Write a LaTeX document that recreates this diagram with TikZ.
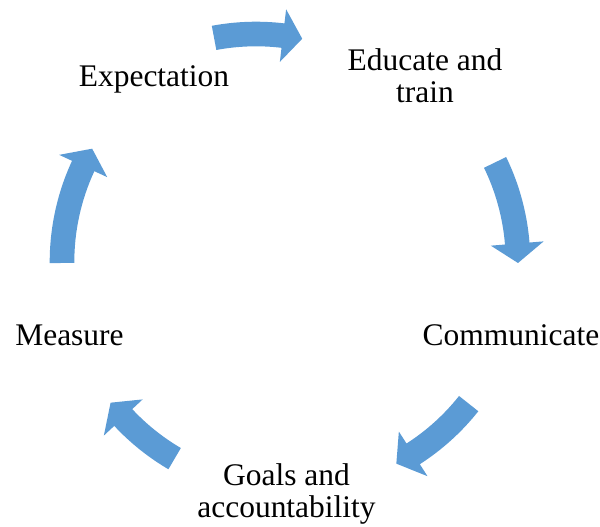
\documentclass[tikz,border=0pt]{standalone}
\usepackage{fontspec}
\setmainfont{Liberation Serif}
\usetikzlibrary{calc}
\definecolor{arrowblue}{HTML}{5B9BD5}
\tikzset{
  arrowfill/.style={fill=arrowblue},
  label/.style={inner sep=0pt, outer sep=0pt, align=center, anchor=base,
    font=\fontsize{23.6}{24}\selectfont}
}
% #1,#2 centre; #3 tail angle; #4 tip angle (image angles, clockwise)
\newcommand\cycarrow[4]{%
  \begin{scope}[shift={(#1,#2)}]
    \pgfmathsetmacro\hb{#4-4.9}
    \fill[arrowfill] (#3:240.3) arc[start angle=#3, end angle=\hb, radius=240.3]
      -- (\hb:254.5) -- (#4:228) -- (\hb:201.5) -- (\hb:215.7)
      arc[start angle=\hb, end angle=#3, radius=215.7] -- cycle;
  \end{scope}}
\begin{document}
\begin{tikzpicture}[x=0.75pt, y=-0.75pt]
  \useasboundingbox (0,0) rectangle (600,527);
  % labels (base anchor = baseline of last line)
  \node[label] (expect) at (154,87) {Expectation};
  \node[label] (educ) at (425,103) {Educate and\\train};
  \node[label] (comm) at (511,346) {Communicate};
  \node[label] (goals) at (286.5,517) {Goals and\\accountability};
  \node[label] (meas) at (69.5,345) {Measure};
  % arrows
  \cycarrow{256}{262}{-100.6}{-78.3}
  \cycarrow{290}{262}{-25.9}{0.25}
  \cycarrow{290}{262}{38.4}{62.2}
  \cycarrow{290}{262}{120.4}{141.9}
  \cycarrow{290}{262}{179.75}{209.8}
\end{tikzpicture}
\end{document}
